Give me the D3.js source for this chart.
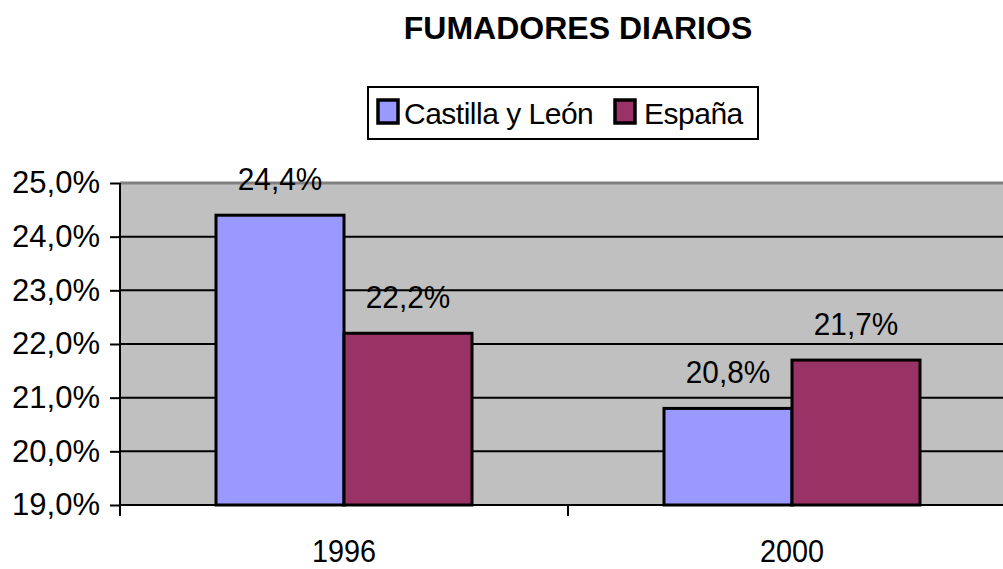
<!DOCTYPE html>
<html><head><meta charset="utf-8">
<script src="https://cdn.jsdelivr.net/npm/d3@7/dist/d3.min.js"></script>
<style>body{margin:0;background:#fff}svg{display:block}text{font-family:"Liberation Sans",Arial,sans-serif}</style>
</head><body><svg id="c" width="1003" height="569"></svg>
<script>
const categories = ["1996", "2000"];
const seriesNames = ["Castilla y León", "España"];
const castilla = [24.4, 20.8];
const espana = [22.2, 21.7];
const yTicks = [19, 20, 21, 22, 23, 24, 25];
const colors = ["#9999FF", "#993366"];

(function () {
const svg = d3.select("#c");
const pL = 120, pR = 1016, pT = 183, pB = 505;
const x = d3.scaleBand().domain(categories).range([pL, pR]).paddingInner(0).paddingOuter(0);
const y = d3.scaleLinear().domain([19, 25]).range([pB, pT]);
const inner = d3.scaleBand().domain(seriesNames).range([96, x.bandwidth() - 96]).padding(0);

const fmt = v => d3.format(".1f")(v).replace(".", ",") + "%";

svg.append("rect").attr("x", pL).attr("y", pT).attr("width", pR - pL).attr("height", pB - pT).attr("fill", "#C0C0C0");
svg.append("line").attr("x1", pL).attr("x2", pR).attr("y1", pT).attr("y2", pT).attr("stroke", "#808080").attr("stroke-width", 3);
svg.append("g").selectAll("line").data(yTicks.filter(t => t > 19 && t < 25)).join("line")
  .attr("x1", pL).attr("x2", pR).attr("y1", d => y(d)).attr("y2", d => y(d))
  .attr("stroke", "#000").attr("stroke-width", 2);

const data = categories.map((c, i) => ({c, vals: [castilla[i], espana[i]]}));
const g = svg.append("g");
data.forEach(d => {
  d.vals.forEach((v, j) => {
    const bx = x(d.c) + inner(seriesNames[j]);
    g.append("rect").attr("x", bx).attr("y", y(v)).attr("width", inner.bandwidth()).attr("height", pB - y(v))
      .attr("fill", colors[j]).attr("stroke", "#000").attr("stroke-width", 3);
    g.append("text").attr("transform", `translate(${bx + inner.bandwidth() / 2},${y(v) - 25}) scale(0.93,1)`)
      .attr("text-anchor", "middle").attr("font-size", 32).text(fmt(v));
  });
});

const yAxis = d3.axisLeft(y).tickValues(yTicks).tickSize(10).tickPadding(10).tickFormat(fmt);
const ya = svg.append("g").attr("transform", `translate(${pL},0)`).call(yAxis);
ya.select(".domain").attr("stroke", "#000").attr("stroke-width", 2).attr("d", `M0,${pT}V${pB + 11}`);
ya.selectAll(".tick line").attr("stroke", "#000").attr("stroke-width", 2);
ya.selectAll(".tick text").attr("font-size", 31).attr("fill", "#000").attr("font-family", '"Liberation Sans",Arial,sans-serif');

svg.append("line").attr("x1", pL).attr("x2", pR).attr("y1", pB).attr("y2", pB).attr("stroke", "#000").attr("stroke-width", 2);
svg.append("g").selectAll("line").data(d3.range(categories.length + 1)).join("line")
  .attr("x1", i => pL + i * x.bandwidth()).attr("x2", i => pL + i * x.bandwidth())
  .attr("y1", pB).attr("y2", pB + 11).attr("stroke", "#000").attr("stroke-width", 2);
svg.append("g").selectAll("text").data(categories).join("text")
  .attr("transform", d => `translate(${x(d) + x.bandwidth() / 2},562) scale(0.9,1)`)
  .attr("text-anchor", "middle").attr("font-size", 32).text(d => d);

svg.append("text").attr("x", 578).attr("y", 39).attr("text-anchor", "middle")
  .attr("font-size", 32).attr("font-weight", "bold").text("FUMADORES DIARIOS");

const lg = svg.append("g");
lg.append("rect").attr("x", 368).attr("y", 87).attr("width", 390).attr("height", 52).attr("fill", "#fff").attr("stroke", "#000").attr("stroke-width", 2);
const items = [{n: seriesNames[0], sx: 378, tx: 404}, {n: seriesNames[1], sx: 615, tx: 644}];
items.forEach((it, j) => {
  lg.append("rect").attr("x", it.sx).attr("y", 100).attr("width", 20).attr("height", 23).attr("fill", colors[j]).attr("stroke", "#000").attr("stroke-width", 3.5);
  lg.append("text").attr("x", it.tx).attr("y", 124).attr("font-size", 30).attr("letter-spacing", -0.5).text(it.n);
});
})();
</script></body></html>
